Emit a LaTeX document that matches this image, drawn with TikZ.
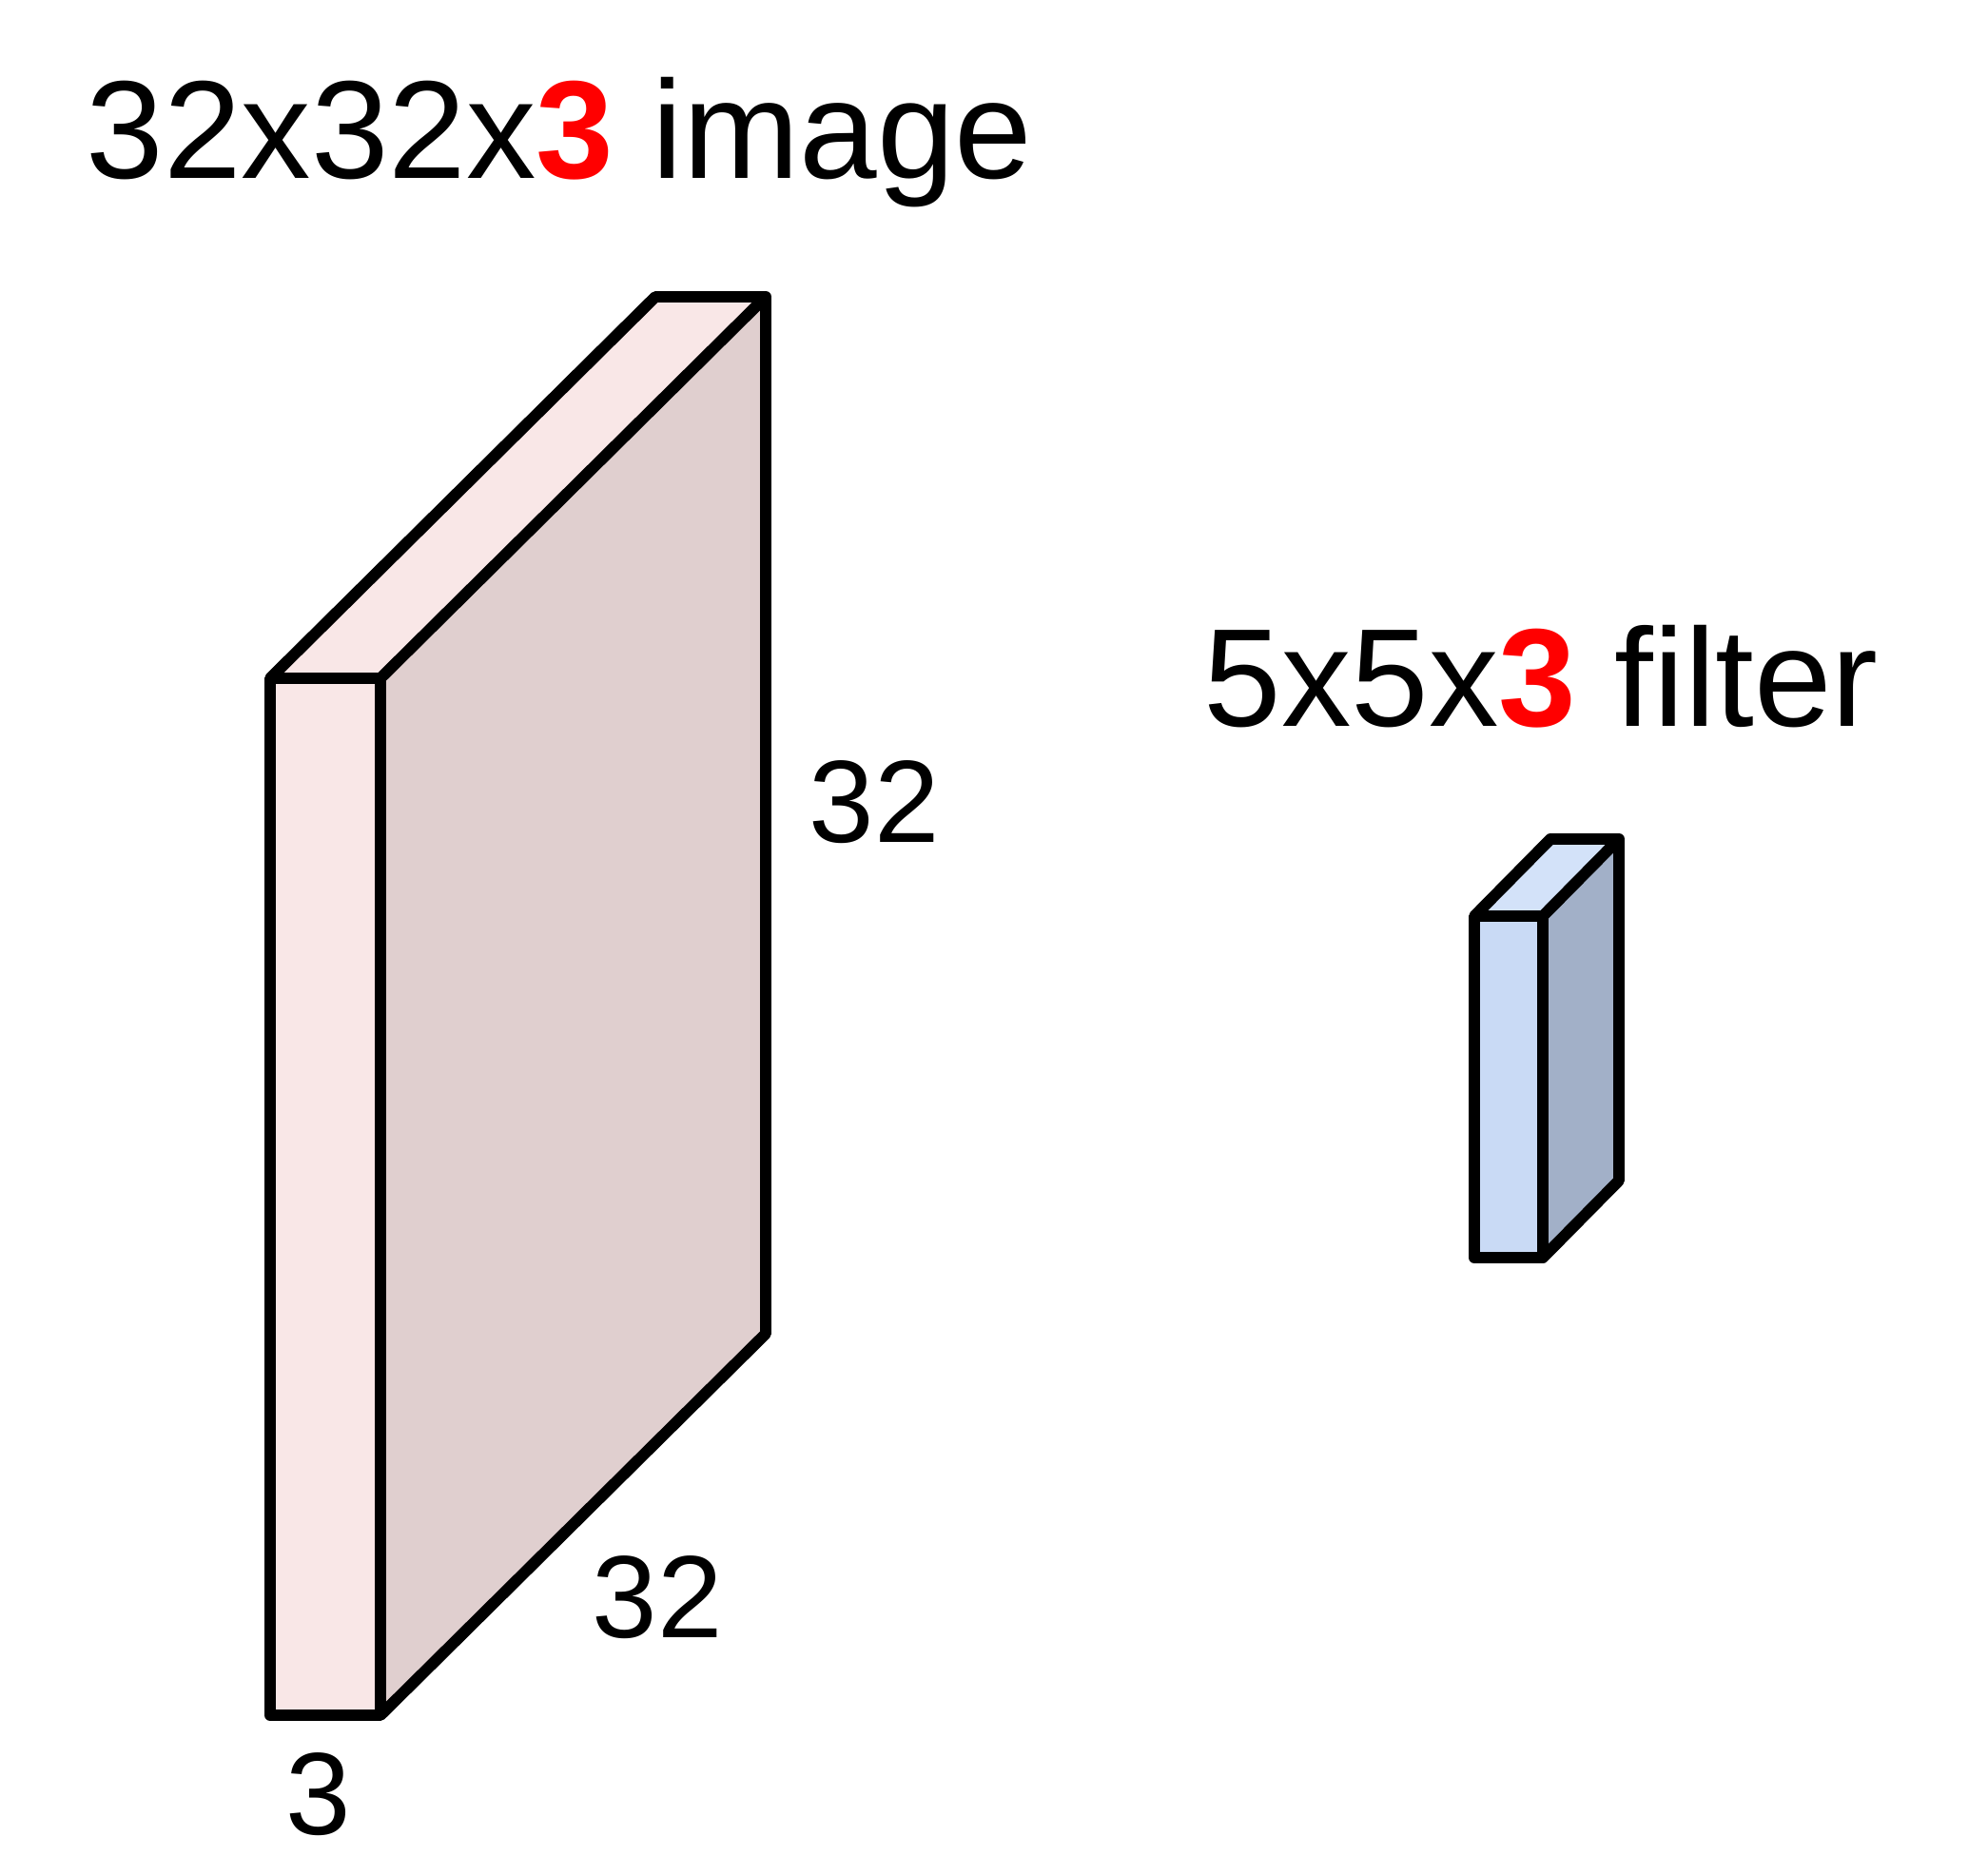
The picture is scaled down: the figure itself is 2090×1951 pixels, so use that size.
\documentclass[tikz,border=0pt]{standalone}
\usepackage{fontspec}
\setmainfont{Liberation Sans}
\definecolor{pinkfront}{HTML}{F9E7E7}
\definecolor{pinkside}{HTML}{E0CFCF}
\definecolor{bluefront}{HTML}{C9DAF5}
\definecolor{bluetop}{HTML}{D3E2F9}
\definecolor{blueside}{HTML}{A2B0C8}
\definecolor{myred}{HTML}{FF0000}
\tikzset{
  face/.style={draw=black, line width=3.4pt, line join=round},
  bigtext/.style={anchor=base west, inner sep=0pt, font=\fontsize{41.7}{50}\selectfont},
  dimtext/.style={anchor=base west, inner sep=0pt, font=\fontsize{35}{42}\selectfont},
}
\begin{document}
\begin{tikzpicture}[x=0.01cm, y=-0.01cm]
\useasboundingbox (0,0) rectangle (2090,1951);
% big box
\coordinate (a1) at (284,713);
\coordinate (a2) at (400,713);
\coordinate (a3) at (400,1803);
\coordinate (a4) at (284,1803);
\coordinate (b1) at (689,312);
\coordinate (b2) at (805,312);
\coordinate (b3) at (805,1402);
\fill[pinkside] (a2) -- (b2) -- (b3) -- (a3) -- cycle;
\fill[pinkfront] (a1) -- (b1) -- (b2) -- (a2) -- cycle;
\fill[pinkfront] (a1) rectangle (a3);
\draw[face] (a1) -- (b1) -- (b2) -- (b3) -- (a3) -- (a4) -- cycle;
\draw[face] (a1) -- (a2) -- (a3);
\draw[face] (a2) -- (b2);
% small box
\coordinate (c1) at (1550,963);
\coordinate (c2) at (1622,963);
\coordinate (c3) at (1622,1322);
\coordinate (c4) at (1550,1322);
\coordinate (d1) at (1630,882);
\coordinate (d2) at (1702,882);
\coordinate (d3) at (1702,1241);
\fill[blueside] (c2) -- (d2) -- (d3) -- (c3) -- cycle;
\fill[bluetop] (c1) -- (d1) -- (d2) -- (c2) -- cycle;
\fill[bluefront] (c1) rectangle (c3);
\draw[face] (c1) -- (d1) -- (d2) -- (d3) -- (c3) -- (c4) -- cycle;
\draw[face] (c1) -- (c2) -- (c3);
\draw[face] (c2) -- (d2);
% texts
\node[bigtext] (title1) at (90,187) {32x32x{\color{myred}\bfseries 3} image};
\node[bigtext] (title2) at (1265,763) {5x5x{\color{myred}\bfseries 3} filter};
\node[dimtext] (h32) at (850,885) {32};
\node[dimtext] (w32) at (622,1721) {32};
\node[dimtext] (d3lbl) at (300,1928) {3};
\end{tikzpicture}
\end{document}
